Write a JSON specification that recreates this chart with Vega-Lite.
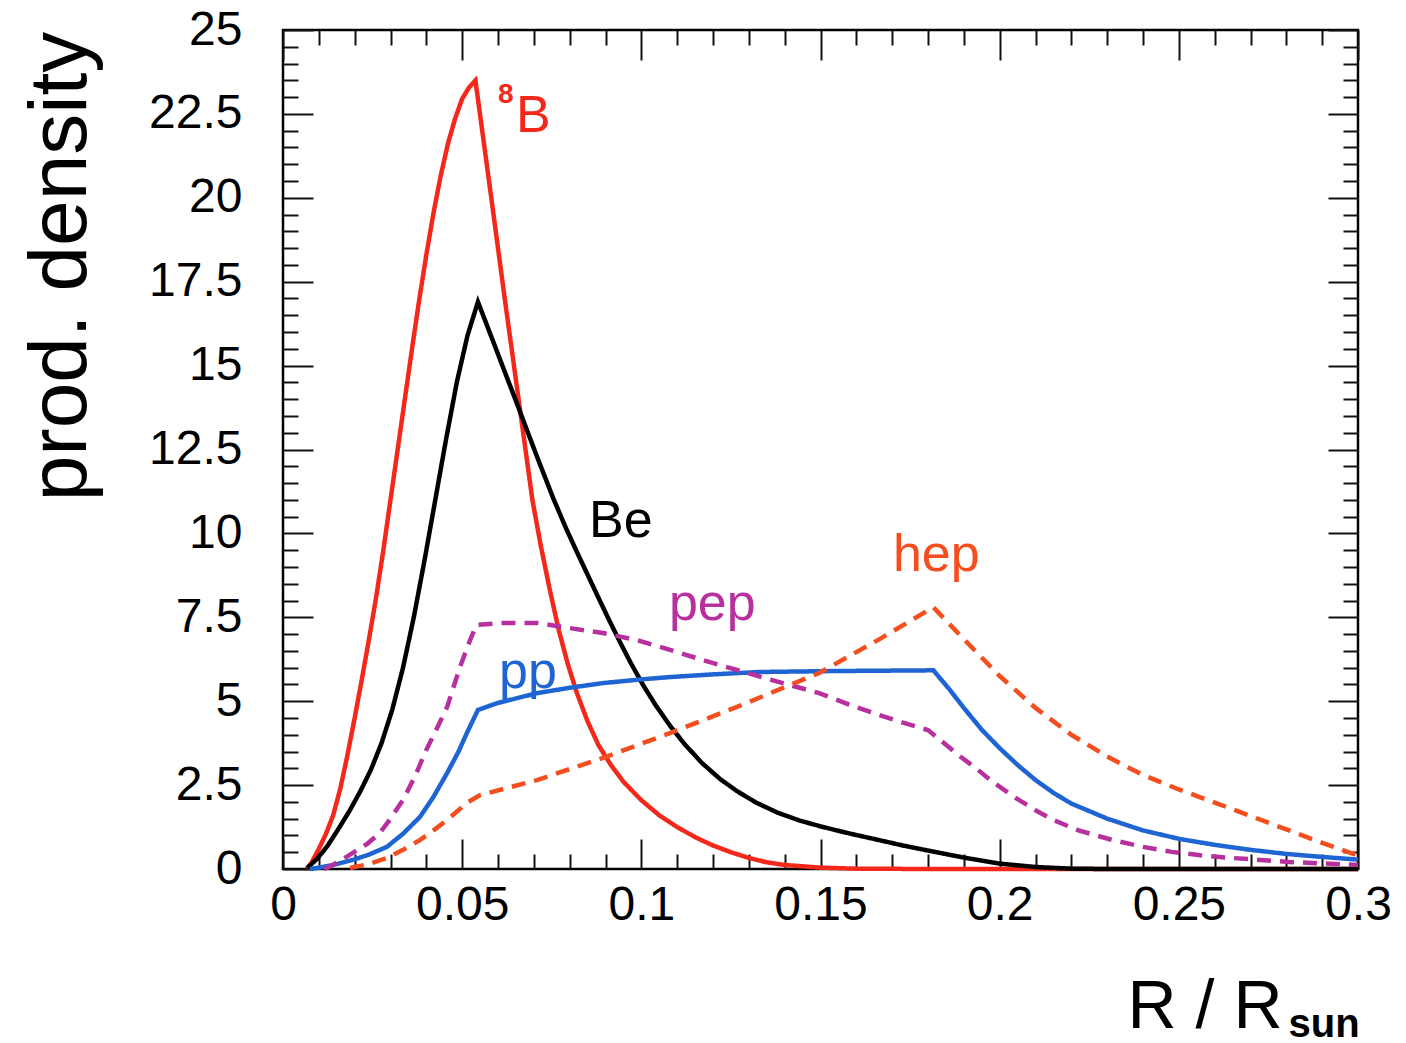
{
  "$schema": "https://vega.github.io/schema/vega-lite/v6.json",
  "width": 1075,
  "height": 839,
  "autosize": {"type": "none"},
  "padding": {"left": 283, "top": 30, "right": 48, "bottom": 174},
  "background": "white",
  "config": {
    "view": {"stroke": "#000", "strokeWidth": 2.5},
    "axis": {"labelFont": "Liberation Sans", "titleFont": "Liberation Sans", "tickColor": "#111", "tickWidth": 2, "grid": false, "domain": false, "labelColor": "#000", "titleColor": "#000"},
    "text": {"font": "Liberation Sans"}
  },
  "datasets": {
    "curves": [
      {"s": "8B", "x": 0.0067, "y": 0}, {"s": "8B", "x": 0.008, "y": 0.2}, {"s": "8B", "x": 0.01, "y": 0.6}, {"s": "8B", "x": 0.012, "y": 1.05}, {"s": "8B", "x": 0.014, "y": 1.6}, {"s": "8B", "x": 0.016, "y": 2.4}, {"s": "8B", "x": 0.018, "y": 3.4}, {"s": "8B", "x": 0.02, "y": 4.5}, {"s": "8B", "x": 0.022, "y": 5.65}, {"s": "8B", "x": 0.024, "y": 6.85}, {"s": "8B", "x": 0.026, "y": 8.1}, {"s": "8B", "x": 0.028, "y": 9.5}, {"s": "8B", "x": 0.03, "y": 11.0}, {"s": "8B", "x": 0.032, "y": 12.5}, {"s": "8B", "x": 0.034, "y": 14.0}, {"s": "8B", "x": 0.036, "y": 15.5}, {"s": "8B", "x": 0.038, "y": 16.95}, {"s": "8B", "x": 0.04, "y": 18.3}, {"s": "8B", "x": 0.042, "y": 19.55}, {"s": "8B", "x": 0.044, "y": 20.65}, {"s": "8B", "x": 0.046, "y": 21.6}, {"s": "8B", "x": 0.048, "y": 22.35}, {"s": "8B", "x": 0.05, "y": 22.95}, {"s": "8B", "x": 0.052, "y": 23.3}, {"s": "8B", "x": 0.0537, "y": 23.5}, {"s": "8B", "x": 0.058, "y": 20.1}, {"s": "8B", "x": 0.062, "y": 16.9}, {"s": "8B", "x": 0.066, "y": 13.8}, {"s": "8B", "x": 0.0696, "y": 11.0}, {"s": "8B", "x": 0.072, "y": 9.6}, {"s": "8B", "x": 0.0745, "y": 8.3}, {"s": "8B", "x": 0.077, "y": 7.1}, {"s": "8B", "x": 0.0795, "y": 6.1}, {"s": "8B", "x": 0.082, "y": 5.25}, {"s": "8B", "x": 0.085, "y": 4.4}, {"s": "8B", "x": 0.088, "y": 3.7}, {"s": "8B", "x": 0.0915, "y": 3.1}, {"s": "8B", "x": 0.095, "y": 2.6}, {"s": "8B", "x": 0.1, "y": 2.05}, {"s": "8B", "x": 0.105, "y": 1.6}, {"s": "8B", "x": 0.11, "y": 1.25}, {"s": "8B", "x": 0.115, "y": 0.95}, {"s": "8B", "x": 0.12, "y": 0.7}, {"s": "8B", "x": 0.125, "y": 0.5}, {"s": "8B", "x": 0.13, "y": 0.33}, {"s": "8B", "x": 0.135, "y": 0.2}, {"s": "8B", "x": 0.14, "y": 0.12}, {"s": "8B", "x": 0.15, "y": 0.04}, {"s": "8B", "x": 0.16, "y": 0.01}, {"s": "8B", "x": 0.18, "y": 0}, {"s": "8B", "x": 0.3, "y": 0},
      {"s": "Be", "x": 0.0067, "y": 0.03}, {"s": "Be", "x": 0.0095, "y": 0.3}, {"s": "Be", "x": 0.0125, "y": 0.7}, {"s": "Be", "x": 0.0155, "y": 1.2}, {"s": "Be", "x": 0.0185, "y": 1.72}, {"s": "Be", "x": 0.0215, "y": 2.3}, {"s": "Be", "x": 0.0245, "y": 2.95}, {"s": "Be", "x": 0.0275, "y": 3.75}, {"s": "Be", "x": 0.0305, "y": 4.75}, {"s": "Be", "x": 0.0335, "y": 6.0}, {"s": "Be", "x": 0.0365, "y": 7.5}, {"s": "Be", "x": 0.0395, "y": 9.2}, {"s": "Be", "x": 0.0425, "y": 11.0}, {"s": "Be", "x": 0.0455, "y": 12.8}, {"s": "Be", "x": 0.0485, "y": 14.5}, {"s": "Be", "x": 0.0515, "y": 15.9}, {"s": "Be", "x": 0.0544, "y": 16.9}, {"s": "Be", "x": 0.058, "y": 15.9}, {"s": "Be", "x": 0.0614, "y": 14.95}, {"s": "Be", "x": 0.065, "y": 13.95}, {"s": "Be", "x": 0.068, "y": 13.1}, {"s": "Be", "x": 0.0712, "y": 12.2}, {"s": "Be", "x": 0.0754, "y": 11.05}, {"s": "Be", "x": 0.079, "y": 10.15}, {"s": "Be", "x": 0.082, "y": 9.45}, {"s": "Be", "x": 0.085, "y": 8.77}, {"s": "Be", "x": 0.0876, "y": 8.18}, {"s": "Be", "x": 0.091, "y": 7.42}, {"s": "Be", "x": 0.094, "y": 6.77}, {"s": "Be", "x": 0.097, "y": 6.15}, {"s": "Be", "x": 0.1005, "y": 5.48}, {"s": "Be", "x": 0.104, "y": 4.88}, {"s": "Be", "x": 0.108, "y": 4.27}, {"s": "Be", "x": 0.112, "y": 3.73}, {"s": "Be", "x": 0.117, "y": 3.15}, {"s": "Be", "x": 0.122, "y": 2.68}, {"s": "Be", "x": 0.1267, "y": 2.32}, {"s": "Be", "x": 0.132, "y": 1.98}, {"s": "Be", "x": 0.138, "y": 1.68}, {"s": "Be", "x": 0.144, "y": 1.45}, {"s": "Be", "x": 0.15, "y": 1.27}, {"s": "Be", "x": 0.158, "y": 1.06}, {"s": "Be", "x": 0.166, "y": 0.87}, {"s": "Be", "x": 0.173, "y": 0.7}, {"s": "Be", "x": 0.18, "y": 0.55}, {"s": "Be", "x": 0.19, "y": 0.34}, {"s": "Be", "x": 0.2, "y": 0.16}, {"s": "Be", "x": 0.21, "y": 0.06}, {"s": "Be", "x": 0.22, "y": 0.01}, {"s": "Be", "x": 0.23, "y": 0}, {"s": "Be", "x": 0.3, "y": 0},
      {"s": "pp", "x": 0.0075, "y": 0}, {"s": "pp", "x": 0.0095, "y": 0.03}, {"s": "pp", "x": 0.014, "y": 0.12}, {"s": "pp", "x": 0.0195, "y": 0.27}, {"s": "pp", "x": 0.024, "y": 0.43}, {"s": "pp", "x": 0.029, "y": 0.66}, {"s": "pp", "x": 0.0335, "y": 1.05}, {"s": "pp", "x": 0.0382, "y": 1.55}, {"s": "pp", "x": 0.042, "y": 2.15}, {"s": "pp", "x": 0.0458, "y": 2.86}, {"s": "pp", "x": 0.049, "y": 3.5}, {"s": "pp", "x": 0.0513, "y": 4.05}, {"s": "pp", "x": 0.0544, "y": 4.74}, {"s": "pp", "x": 0.06, "y": 4.95}, {"s": "pp", "x": 0.0709, "y": 5.24}, {"s": "pp", "x": 0.08, "y": 5.4}, {"s": "pp", "x": 0.0893, "y": 5.54}, {"s": "pp", "x": 0.1, "y": 5.65}, {"s": "pp", "x": 0.108, "y": 5.72}, {"s": "pp", "x": 0.12, "y": 5.8}, {"s": "pp", "x": 0.133, "y": 5.87}, {"s": "pp", "x": 0.155, "y": 5.9}, {"s": "pp", "x": 0.1815, "y": 5.92}, {"s": "pp", "x": 0.186, "y": 5.35}, {"s": "pp", "x": 0.19, "y": 4.8}, {"s": "pp", "x": 0.195, "y": 4.15}, {"s": "pp", "x": 0.2, "y": 3.6}, {"s": "pp", "x": 0.205, "y": 3.1}, {"s": "pp", "x": 0.21, "y": 2.65}, {"s": "pp", "x": 0.215, "y": 2.27}, {"s": "pp", "x": 0.22, "y": 1.95}, {"s": "pp", "x": 0.23, "y": 1.5}, {"s": "pp", "x": 0.24, "y": 1.15}, {"s": "pp", "x": 0.25, "y": 0.9}, {"s": "pp", "x": 0.26, "y": 0.72}, {"s": "pp", "x": 0.27, "y": 0.57}, {"s": "pp", "x": 0.28, "y": 0.45}, {"s": "pp", "x": 0.29, "y": 0.36}, {"s": "pp", "x": 0.3, "y": 0.28},
      {"s": "pep", "x": 0.0115, "y": 0}, {"s": "pep", "x": 0.0123, "y": 0.03}, {"s": "pep", "x": 0.016, "y": 0.25}, {"s": "pep", "x": 0.0195, "y": 0.48}, {"s": "pep", "x": 0.0235, "y": 0.75}, {"s": "pep", "x": 0.027, "y": 1.07}, {"s": "pep", "x": 0.03, "y": 1.5}, {"s": "pep", "x": 0.0335, "y": 2.06}, {"s": "pep", "x": 0.037, "y": 2.8}, {"s": "pep", "x": 0.04, "y": 3.55}, {"s": "pep", "x": 0.043, "y": 4.2}, {"s": "pep", "x": 0.0458, "y": 4.83}, {"s": "pep", "x": 0.0494, "y": 6.02}, {"s": "pep", "x": 0.0522, "y": 6.82}, {"s": "pep", "x": 0.054, "y": 7.27}, {"s": "pep", "x": 0.0614, "y": 7.33}, {"s": "pep", "x": 0.0709, "y": 7.33}, {"s": "pep", "x": 0.08, "y": 7.18}, {"s": "pep", "x": 0.0893, "y": 7.03}, {"s": "pep", "x": 0.0988, "y": 6.82}, {"s": "pep", "x": 0.108, "y": 6.53}, {"s": "pep", "x": 0.117, "y": 6.23}, {"s": "pep", "x": 0.1267, "y": 5.93}, {"s": "pep", "x": 0.1365, "y": 5.63}, {"s": "pep", "x": 0.1496, "y": 5.24}, {"s": "pep", "x": 0.158, "y": 4.9}, {"s": "pep", "x": 0.166, "y": 4.6}, {"s": "pep", "x": 0.173, "y": 4.36}, {"s": "pep", "x": 0.18, "y": 4.14}, {"s": "pep", "x": 0.1845, "y": 3.75}, {"s": "pep", "x": 0.189, "y": 3.35}, {"s": "pep", "x": 0.1934, "y": 3.0}, {"s": "pep", "x": 0.198, "y": 2.6}, {"s": "pep", "x": 0.204, "y": 2.15}, {"s": "pep", "x": 0.21, "y": 1.75}, {"s": "pep", "x": 0.215, "y": 1.46}, {"s": "pep", "x": 0.222, "y": 1.15}, {"s": "pep", "x": 0.2316, "y": 0.86}, {"s": "pep", "x": 0.24, "y": 0.66}, {"s": "pep", "x": 0.248, "y": 0.51}, {"s": "pep", "x": 0.256, "y": 0.41}, {"s": "pep", "x": 0.2646, "y": 0.33}, {"s": "pep", "x": 0.2808, "y": 0.21}, {"s": "pep", "x": 0.3, "y": 0.12},
      {"s": "hep", "x": 0.0187, "y": 0.03}, {"s": "hep", "x": 0.024, "y": 0.15}, {"s": "hep", "x": 0.029, "y": 0.33}, {"s": "hep", "x": 0.0335, "y": 0.57}, {"s": "hep", "x": 0.0382, "y": 0.86}, {"s": "hep", "x": 0.042, "y": 1.15}, {"s": "hep", "x": 0.0458, "y": 1.46}, {"s": "hep", "x": 0.0513, "y": 1.97}, {"s": "hep", "x": 0.055, "y": 2.2}, {"s": "hep", "x": 0.0709, "y": 2.65}, {"s": "hep", "x": 0.0893, "y": 3.31}, {"s": "hep", "x": 0.108, "y": 4.05}, {"s": "hep", "x": 0.1267, "y": 4.83}, {"s": "hep", "x": 0.1496, "y": 5.84}, {"s": "hep", "x": 0.166, "y": 6.82}, {"s": "hep", "x": 0.1815, "y": 7.8}, {"s": "hep", "x": 0.19, "y": 6.85}, {"s": "hep", "x": 0.2, "y": 5.75}, {"s": "hep", "x": 0.21, "y": 4.8}, {"s": "hep", "x": 0.22, "y": 4.0}, {"s": "hep", "x": 0.23, "y": 3.35}, {"s": "hep", "x": 0.24, "y": 2.8}, {"s": "hep", "x": 0.25, "y": 2.37}, {"s": "hep", "x": 0.26, "y": 1.98}, {"s": "hep", "x": 0.27, "y": 1.58}, {"s": "hep", "x": 0.28, "y": 1.18}, {"s": "hep", "x": 0.29, "y": 0.78}, {"s": "hep", "x": 0.3, "y": 0.4}
    ],
    "labels": [
      {"s": "8B", "x": 0.065, "y": 21.96, "label": "B"},
      {"s": "Be", "x": 0.0854, "y": 9.89, "label": "Be"},
      {"s": "pep", "x": 0.1077, "y": 7.42, "label": "pep"},
      {"s": "pp", "x": 0.0603, "y": 5.39, "label": "pp"},
      {"s": "hep", "x": 0.1702, "y": 8.88, "label": "hep"}
    ],
    "sup": [
      {"s": "8B", "x": 0.06, "y": 22.82, "label": "8"}
    ]
  },
  "resolve": {"axis": {"x": "independent", "y": "independent"}},
  "layer": [
    {
      "data": {"name": "curves"},
      "mark": {"type": "line", "strokeWidth": 4.5},
      "encoding": {
        "x": {"field": "x", "type": "quantitative", "scale": {"domain": [0, 0.3], "nice": false},
          "axis": {"orient": "bottom", "values": [0, 0.05, 0.1, 0.15, 0.2, 0.25, 0.3], "ticks": false, "format": ".3~g", "labelFontSize": 48, "labelPadding": 12, "labelFlush": false, "labelOverlap": false, "labelBound": false,
            "title": "R / R", "titleFontSize": 68, "titleFontWeight": "normal", "titleAlign": "right", "titleBaseline": "alphabetic", "titleX": 999, "titleY": 158}},
        "y": {"field": "y", "type": "quantitative", "scale": {"domain": [0, 25], "nice": false},
          "axis": {"orient": "left", "values": [0, 2.5, 5, 7.5, 10, 12.5, 15, 17.5, 20, 22.5, 25], "ticks": false, "format": ".3~g", "labelFontSize": 48, "labelPadding": 41, "labelFlush": false, "labelOverlap": false, "labelBound": false,
            "title": "prod. density", "titleFontSize": 82, "titleFontWeight": "normal", "titleAngle": -90, "titleAlign": "center", "titleBaseline": "middle", "titleX": -223, "titleY": 236}},
        "color": {"field": "s", "type": "nominal", "legend": null,
          "scale": {"domain": ["8B", "Be", "pp", "pep", "hep"], "range": ["#f4281a", "#000000", "#1e64d2", "#b8309e", "#f44d1e"]}},
        "strokeDash": {"field": "s", "type": "nominal", "legend": null,
          "scale": {"domain": ["8B", "Be", "pp", "pep", "hep"], "range": [[1, 0], [1, 0], [1, 0], [14, 9], [14, 9]]}}
      }
    },
    {
      "data": {"name": "labels"},
      "mark": {"type": "text", "fontSize": 52, "align": "left", "baseline": "alphabetic"},
      "encoding": {
        "x": {"field": "x", "type": "quantitative",
          "axis": {"orient": "bottom", "values": [0, 0.05, 0.1, 0.15, 0.2, 0.25, 0.3], "tickSize": -30, "labels": false, "title": null}},
        "y": {"field": "y", "type": "quantitative",
          "axis": {"orient": "left", "values": [0, 2.5, 5, 7.5, 10, 12.5, 15, 17.5, 20, 22.5, 25], "tickSize": -30, "labels": false, "title": null}},
        "text": {"field": "label"},
        "color": {"field": "s", "type": "nominal", "legend": null,
          "scale": {"domain": ["8B", "Be", "pp", "pep", "hep"], "range": ["#f4281a", "#000000", "#1e64d2", "#b8309e", "#f44d1e"]}}
      }
    },
    {
      "data": {"name": "sup"},
      "mark": {"type": "text", "fontSize": 28, "fontWeight": "bold", "align": "left", "baseline": "alphabetic"},
      "encoding": {
        "x": {"field": "x", "type": "quantitative",
          "axis": {"orient": "bottom", "values": [0.01, 0.02, 0.03, 0.04, 0.06, 0.07, 0.08, 0.09, 0.11, 0.12, 0.13, 0.14, 0.16, 0.17, 0.18, 0.19, 0.21, 0.22, 0.23, 0.24, 0.26, 0.27, 0.28, 0.29], "tickSize": -15, "labels": false,
            "title": "sun", "titleFontSize": 40, "titleFontWeight": "bold", "titleAlign": "left", "titleBaseline": "alphabetic", "titleX": 1005, "titleY": 167}},
        "y": {"field": "y", "type": "quantitative",
          "axis": {"orient": "left", "values": [0.5, 1, 1.5, 2, 3, 3.5, 4, 4.5, 5.5, 6, 6.5, 7, 8, 8.5, 9, 9.5, 10.5, 11, 11.5, 12, 13, 13.5, 14, 14.5, 15.5, 16, 16.5, 17, 18, 18.5, 19, 19.5, 20.5, 21, 21.5, 22, 23, 23.5, 24, 24.5], "tickSize": -15, "labels": false, "title": null}},
        "text": {"field": "label"},
        "color": {"field": "s", "type": "nominal", "legend": null,
          "scale": {"domain": ["8B", "Be", "pp", "pep", "hep"], "range": ["#f4281a", "#000000", "#1e64d2", "#b8309e", "#f44d1e"]}}
      }
    },
    {
      "data": {"name": "labels"},
      "mark": {"type": "point", "opacity": 0},
      "encoding": {
        "x": {"field": "x", "type": "quantitative",
          "axis": {"orient": "top", "values": [0, 0.05, 0.1, 0.15, 0.2, 0.25, 0.3], "tickSize": -30, "labels": false, "title": null}},
        "y": {"field": "y", "type": "quantitative",
          "axis": {"orient": "right", "values": [0, 2.5, 5, 7.5, 10, 12.5, 15, 17.5, 20, 22.5, 25], "tickSize": -30, "labels": false, "title": null}}
      }
    },
    {
      "data": {"name": "labels"},
      "mark": {"type": "point", "opacity": 0},
      "encoding": {
        "x": {"field": "x", "type": "quantitative",
          "axis": {"orient": "top", "values": [0.01, 0.02, 0.03, 0.04, 0.06, 0.07, 0.08, 0.09, 0.11, 0.12, 0.13, 0.14, 0.16, 0.17, 0.18, 0.19, 0.21, 0.22, 0.23, 0.24, 0.26, 0.27, 0.28, 0.29], "tickSize": -15, "labels": false, "title": null}},
        "y": {"field": "y", "type": "quantitative",
          "axis": {"orient": "right", "values": [0.5, 1, 1.5, 2, 3, 3.5, 4, 4.5, 5.5, 6, 6.5, 7, 8, 8.5, 9, 9.5, 10.5, 11, 11.5, 12, 13, 13.5, 14, 14.5, 15.5, 16, 16.5, 17, 18, 18.5, 19, 19.5, 20.5, 21, 21.5, 22, 23, 23.5, 24, 24.5], "tickSize": -15, "labels": false, "title": null}}
      }
    }
  ]
}
